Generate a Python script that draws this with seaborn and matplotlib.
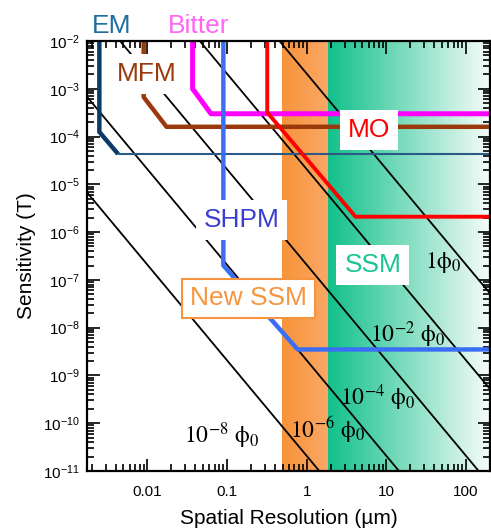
import numpy as np
import pandas as pd
import matplotlib.pyplot as plt
import seaborn as sns
from matplotlib.colors import to_rgb
from matplotlib.ticker import LogLocator, NullFormatter

# --- data ---
x_lim = [0.00175, 200]
y_lim = [1e-11, 1e-2]

# instrument curves: spatial resolution (um) vs sensitivity (T)
em_x = [0.0025, 0.0025, 0.0043]
em_b = [1e-2, 1.25e-4, 4.3e-5]
em_flat_x = [0.0043, 200]
em_flat_b = [4.3e-5, 4.3e-5]
mfm_x = [0.009, 0.009, 0.0174, 200]
mfm_b = [1e-2, 6.7e-4, 1.6e-4, 1.6e-4]
bitter_x = [0.037, 0.037, 0.063, 200]
bitter_b = [1.2e-2, 1e-3, 3e-4, 3e-4]
shpm_x = [0.09, 0.09, 0.77, 200]
shpm_b = [1e-2, 2e-7, 3.5e-9, 3.5e-9]
mo_x = [0.32, 0.32, 4.1, 200]
mo_b = [1e-2, 3.2e-4, 2.1e-6, 2.1e-6]

# flux lines (multiples of phi0), endpoints inside the frame
flux_n = ["1", "-2", "-4", "-6", "-8"]
flux_x0 = [0.455, 0.0455, 0.00455, 0.00175, 0.00175]
flux_b0 = [1e-2, 1e-2, 1e-2, 6.8e-4, 6.8e-6]
flux_x1 = [200, 200, 144, 14.4, 1.44]
flux_b1 = [5.2e-8, 5.2e-10, 1e-11, 1e-11, 1e-11]

# shaded ranges (um)
new_ssm_range = [0.485, 1.85]
ssm_range = [1.85, 200]

x_ticks = [0.01, 0.1, 1, 10, 100]
x_tick_labels = ["0.01", "0.1", "1", "10", "100"]
y_exps = list(range(-11, -1))

sns.set_theme(style="ticks")
plt.rcParams["font.family"] = ["Liberation Sans", "DejaVu Sans"]

fig, ax = plt.subplots(figsize=(4.91, 5.31), dpi=100)
fig.subplots_adjust(left=0.1772, right=0.998, bottom=0.113, top=0.9228)
ax.set_xscale("log")
ax.set_yscale("log")


def frac(v):
    return (np.log10(v) - np.log10(x_lim[0])) / (np.log10(x_lim[1]) - np.log10(x_lim[0]))


def gradient(c0, c1, n=256):
    a = np.array(to_rgb(c0))
    b = np.array(to_rgb(c1))
    t = np.linspace(0, 1, n)[None, :, None]
    return a + (b - a) * t


ax.imshow(gradient("#f7933a", "#faa866"), extent=[frac(new_ssm_range[0]), frac(new_ssm_range[1]), 0, 1],
          transform=ax.transAxes, aspect="auto", zorder=0)
ax.imshow(gradient("#12c08a", "#f7fcfa"), extent=[frac(ssm_range[0]), frac(ssm_range[1]), 0, 1],
          transform=ax.transAxes, aspect="auto", zorder=0)

for x0, b0, x1, b1 in zip(flux_x0, flux_b0, flux_x1, flux_b1):
    sns.lineplot(x=[x0, x1], y=[b0, b1], color="black", lw=1.3, ax=ax, zorder=2)

curves = [
    (em_x, em_b, "#0b3a6a", 3.2),
    (em_flat_x, em_flat_b, "#2a5a85", 1.5),
    (mfm_x, mfm_b, "#9a3a0c", 3.2),
    (bitter_x, bitter_b, "#ff00ff", 3.6),
    (shpm_x, shpm_b, "#3a6ef5", 3.2),
    (mo_x, mo_b, "#ff0000", 2.8),
]
for cx, cb, col, lw in curves:
    df = pd.DataFrame({"x": cx, "b": cb})
    sns.lineplot(data=df, x="x", y="b", sort=False, estimator=None, color=col, lw=lw,
                 ax=ax, zorder=3, solid_capstyle="butt")

ax.set_xlim(x_lim)
ax.set_ylim(y_lim)

# labels
lab = dict(fontsize=19, ha="center", va="baseline", zorder=5)
box = dict(boxstyle="square,pad=0.3", fc="white", ec="none")
ax.text(0.00352, 0.0147, "EM", color="#1f6e9c", clip_on=False, **lab)
ax.text(0.0438, 0.0147, "Bitter", color="#ff66f5", clip_on=False, **lab)
ax.text(0.0097, 1.45e-3, "MFM", color="#9a3a0c", bbox=box, **lab)
ax.text(6.0, 9.7e-5, "MO", color="#ff0000", bbox=box, **lab)
ax.text(6.76, 1.44e-7, "SSM", color="#1bc491", bbox=box, **lab)
ax.text(0.152, 1.26e-6, "SHPM", color="#3a3fd0", bbox=box, **lab)
ax.text(0.186, 2.92e-8, "New SSM", color="#f7953f",
        bbox=dict(boxstyle="square,pad=0.3", fc="white", ec="#f7953f", lw=1.5), **lab)

flux_lab = dict(fontsize=17, ha="center", va="baseline", color="black", math_fontfamily="stix", zorder=5)
ax.text(51.4, 1.74e-7, r"$1\mathrm{\phi}_0$", **flux_lab)
ax.text(18.6, 4.9e-9, r"$10^{-2}\ \mathrm{\phi}_0$", **flux_lab)
ax.text(7.82, 2.34e-10, r"$10^{-4}\ \mathrm{\phi}_0$", **flux_lab)
ax.text(1.84, 4.99e-11, r"$10^{-6}\ \mathrm{\phi}_0$", **flux_lab)
ax.text(0.085, 3.9e-11, r"$10^{-8}\ \mathrm{\phi}_0$", **flux_lab)

# axes styling
ax.set_xticks(x_ticks)
ax.set_xticklabels(x_tick_labels)
ax.set_yticks([10.0 ** e for e in y_exps])
ax.set_yticklabels([r"$\mathregular{10^{%d}}$" % e for e in y_exps])
for axis in (ax.xaxis, ax.yaxis):
    axis.set_minor_locator(LogLocator(base=10, subs=np.arange(2, 10), numticks=100))
    axis.set_minor_formatter(NullFormatter())
ax.tick_params(which="both", direction="in", top=True, right=True, width=1.2,
               color="black", labelcolor="black", labelsize=11)
ax.tick_params(which="major", length=9)
ax.tick_params(which="minor", length=5)
ax.tick_params(axis="x", pad=10)
ax.tick_params(axis="y", pad=5)
for s in ax.spines.values():
    s.set_linewidth(1.6)
    s.set_color("black")
    s.set_zorder(6)

ax.set_xlabel("Spatial Resolution (µm)", fontsize=15, labelpad=7, color="black")
ax.set_ylabel("Sensitivity (T)", fontsize=15, labelpad=5, color="black")

fig.savefig("out.png", dpi=100)
